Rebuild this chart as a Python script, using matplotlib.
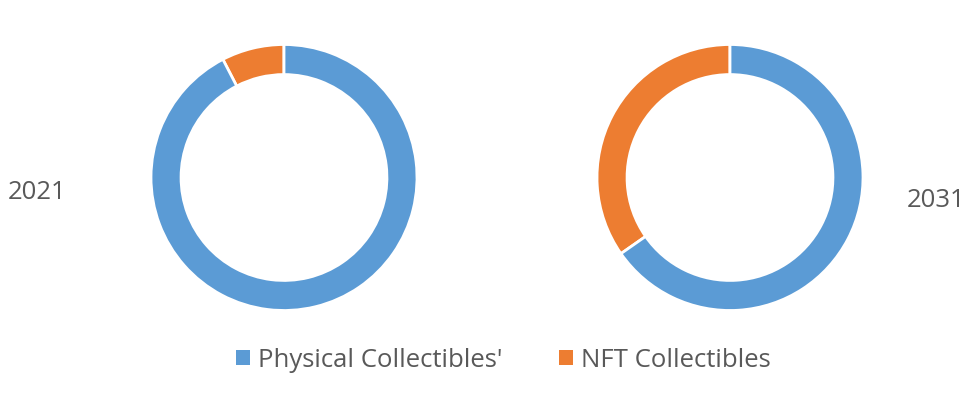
import matplotlib.pyplot as plt
from matplotlib.patches import Patch

# data (share of market, %)
years = ['2021', '2031']
categories = ["Physical Collectibles'", 'NFT Collectibles']
physical = [92.4, 65.3]
nft = [7.6, 34.7]
colors = ['#5B9BD5', '#ED7D31']

plt.rcParams['font.family'] = ['Open Sans', 'DejaVu Sans']

W, H = 973, 415
fig = plt.figure(figsize=(W / 100, H / 100), dpi=100)

r = 133
centers = [(284, 177.5), (730, 177.5)]
for (cx, cy), p, n in zip(centers, physical, nft):
    ax = fig.add_axes([(cx - r) / W, (H - cy - r) / H, 2 * r / W, 2 * r / H])
    # NFT first so it runs counter-clockwise from 12 o'clock
    ax.pie([n, p], colors=[colors[1], colors[0]], startangle=90, counterclock=True,
           radius=1, wedgeprops=dict(width=0.226, edgecolor='white', linewidth=2))
    ax.set_xlim(-1, 1)
    ax.set_ylim(-1, 1)
    ax.set_aspect('equal')
    ax.axis('off')

fig.text(37 / W, 1 - 192.5 / H, years[0], ha='center', va='center', fontsize=18.5, color='#595959')
fig.text(936 / W, 1 - 200 / H, years[1], ha='center', va='center', fontsize=18.5, color='#595959')

handles = [Patch(facecolor=c, edgecolor='none') for c in colors]
fig.legend(handles, categories, loc='center', bbox_to_anchor=(503.5 / W, 1 - 360 / H), ncol=2,
           frameon=False, fontsize=18.5, labelcolor='#595959', handlelength=0.55, handleheight=0.55,
           handletextpad=0.3, columnspacing=2.2, borderpad=0)

fig.savefig('out.png', dpi=100)
